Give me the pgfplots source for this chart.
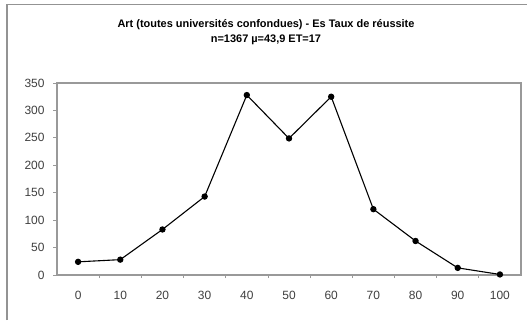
\documentclass[border=0pt]{standalone}
\usepackage{pgfplots}
\pgfplotsset{compat=1.18}
\usepackage{fontspec}
\setmainfont{Liberation Sans}
\begin{document}
\begin{tikzpicture}[x=1bp,y=1bp]
\useasboundingbox (0,0) rectangle (527,320);
\fill[white] (0,0) rectangle (527,320);
% chart area frame (left and top edges visible)
\draw[gray!85, line width=1.8bp] (7,0) -- (7,315.5) -- (527,315.5);
\node[align=center, font=\fontsize{11}{15}\selectfont\bfseries] at (266,288)
  {Art (toutes universités confondues) - Es Taux de réussite\\n=1367 µ=43,9 ET=17};
\begin{axis}[
    at={(57bp,45bp)}, anchor=south west,
    scale only axis,
    width=464bp, height=192bp,
    xmin=-0.5, xmax=10.5,
    ymin=0, ymax=350,
    xtick={0,1,2,3,4,5,6,7,8,9,10},
    xticklabels={0,10,20,30,40,50,60,70,80,90,100},
    minor xtick={0.5,1.5,2.5,3.5,4.5,5.5,6.5,7.5,8.5,9.5},
    ytick={0,50,100,150,200,250,300,350},
    major x tick style={draw=none},
    minor tick length=3bp,
    major tick length=4bp,
    tick align=outside,
    xtick pos=bottom, ytick pos=left,
    axis line style={gray!80, line width=1.2bp},
    every tick/.style={gray!80, line width=0.8bp},
    tick label style={font=\fontsize{12}{12}\selectfont, text=black!75},
    /pgf/number format/assume math mode=true,
    xticklabel style={yshift=-9bp},
    yticklabel style={xshift=-5bp},
    clip=false,
]
\addplot[black, line width=1.1bp, mark=*, mark size=2.6bp, mark options={fill=black}]
    coordinates {
    (0,24) (1,28) (2,83) (3,143) (4,328) (5,249)
    (6,325) (7,120) (8,62) (9,13) (10,1)
    };
\end{axis}
\end{tikzpicture}
\end{document}
